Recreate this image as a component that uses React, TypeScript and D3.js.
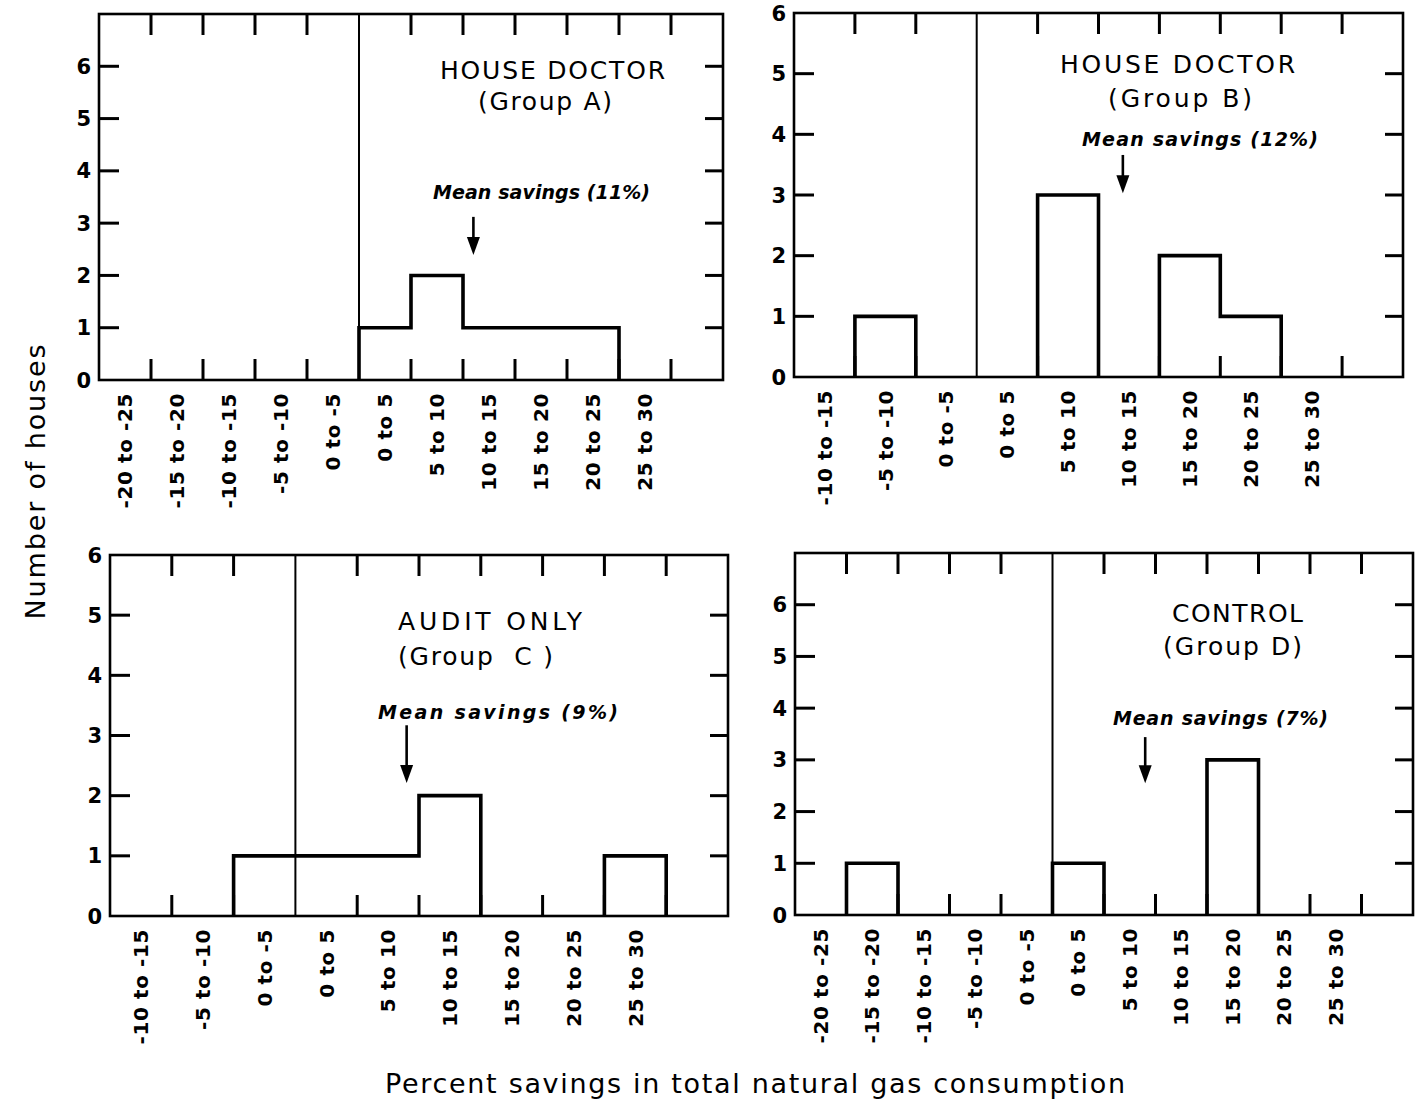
import React from "react";
import * as d3 from "d3";

// ---------- data ----------
const yTicks = [0, 1, 2, 3, 4, 5, 6];
const wideBins = ["-20 to -25", "-15 to -20", "-10 to -15", "-5 to -10", "0 to -5", "0 to 5", "5 to 10", "10 to 15", "15 to 20", "20 to 25", "25 to 30"];
const narrowBins = ["-10 to -15", "-5 to -10", "0 to -5", "0 to 5", "5 to 10", "10 to 15", "15 to 20", "20 to 25", "25 to 30"];
const binWidthPct = 5;

const countsA = [0, 0, 0, 0, 0, 1, 2, 1, 1, 1, 0];
const countsB = [0, 1, 0, 0, 3, 0, 2, 1, 0];
const countsC = [0, 0, 1, 1, 1, 2, 0, 0, 1];
const countsD = [0, 1, 0, 0, 0, 1, 0, 0, 3, 0, 0];

const binStartA = -25;
const binStartB = -15;
const binStartC = -15;
const binStartD = -25;

const yMaxA = 7;
const yMaxB = 6;
const yMaxC = 6;
const yMaxD = 7;

const meanLabels = ["Mean savings (11%)", "Mean savings (12%)", "Mean savings (9%)", "Mean savings (7%)"];
const arrowAt = [11, 12, 9, 9]; // percent position of arrow
const arrowTop = [3.12, 3.66, 3.17, 3.44]; // in houses
const arrowTip = [2.39, 3.03, 2.21, 2.55];

const titles1 = ["HOUSE DOCTOR", "HOUSE DOCTOR", "AUDIT ONLY", "CONTROL"];
const titles2 = ["(Group A)", "(Group B)", "(Group  C )", "(Group D)"];

const yAxisTitle = "Number of houses";
const xAxisTitle = "Percent savings in total natural gas consumption";

// ---------- layout (styling, not data) ----------
const FONT = "'DejaVu Sans', 'Liberation Sans', Arial, sans-serif";

type Layout = {
  left: number; right: number; top: number; bottom: number;
  t1: [number, number, number]; // x start, x end, baseline
  t2: [number, number, number];
  m: [number, number, number];
};

const layouts: Layout[] = [
  { left: 99, right: 723, top: 14, bottom: 380, t1: [440, 665, 79], t2: [478, 612, 110], m: [433, 650, 199] },
  { left: 794, right: 1403, top: 13, bottom: 377, t1: [1060, 1295, 73], t2: [1108, 1252, 107], m: [1082, 1318, 146] },
  { left: 110, right: 728, top: 555, bottom: 916, t1: [398, 582, 630], t2: [398, 553, 665], m: [378, 618, 719] },
  { left: 795, right: 1413, top: 553, bottom: 915, t1: [1172, 1303, 622], t2: [1163, 1302, 655], m: [1113, 1328, 725] },
];

const panels = [
  { bins: wideBins, counts: countsA, start: binStartA, yMax: yMaxA },
  { bins: narrowBins, counts: countsB, start: binStartB, yMax: yMaxB },
  { bins: narrowBins, counts: countsC, start: binStartC, yMax: yMaxC },
  { bins: wideBins, counts: countsD, start: binStartD, yMax: yMaxD },
];

function outlinePaths(counts: number[], start: number, x: (v: number) => number, y: (v: number) => number) {
  const out: string[] = [];
  const line = d3.line();
  let i = 0;
  while (i < counts.length) {
    if (counts[i] === 0) { i++; continue; }
    const pts: [number, number][] = [[x(start + i * binWidthPct), y(0)]];
    while (i < counts.length && counts[i] > 0) {
      pts.push([x(start + i * binWidthPct), y(counts[i])]);
      pts.push([x(start + (i + 1) * binWidthPct), y(counts[i])]);
      i++;
    }
    pts.push([x(start + i * binWidthPct), y(0)]);
    out.push(line(pts) as string);
  }
  return out;
}

function Panel({ idx }: { idx: number }) {
  const p = panels[idx];
  const L = layouts[idx];
  const nSlots = p.bins.length + 1;
  const x = d3.scaleLinear().domain([p.start, p.start + nSlots * binWidthPct]).range([L.left, L.right]);
  const y = d3.scaleLinear().domain([0, p.yMax]).range([L.bottom, L.top]);
  const edges = d3.range(1, nSlots).map((k) => p.start + k * binWidthPct);
  const tickLen = 21;
  const ax = x(arrowAt[idx]);
  const aTop = y(arrowTop[idx]);
  const aTip = y(arrowTip[idx]);
  const headLen = 18;
  const headW = 6.5;
  return (
    <g>
      {/* frame */}
      <rect x={L.left} y={L.top} width={L.right - L.left} height={L.bottom - L.top} fill="none" stroke="#000" strokeWidth={2.6} />
      {/* zero line */}
      <line x1={x(0)} x2={x(0)} y1={L.top} y2={L.bottom} stroke="#000" strokeWidth={2} />
      {/* top & bottom ticks */}
      {edges.filter((e) => e !== 0).map((e) => (
        <g key={"e" + e}>
          <line x1={x(e)} x2={x(e)} y1={L.top} y2={L.top + tickLen} stroke="#000" strokeWidth={3} />
          <line x1={x(e)} x2={x(e)} y1={L.bottom} y2={L.bottom - tickLen} stroke="#000" strokeWidth={3} />
        </g>
      ))}
      {/* left & right ticks */}
      {yTicks.filter((t) => t > 0 && t < p.yMax).map((t) => (
        <g key={"y" + t}>
          <line x1={L.left} x2={L.left + 20} y1={y(t)} y2={y(t)} stroke="#000" strokeWidth={3} />
          <line x1={L.right} x2={L.right - 18} y1={y(t)} y2={y(t)} stroke="#000" strokeWidth={3} />
        </g>
      ))}
      {/* y tick labels */}
      {yTicks.map((t) => (
        <text key={"yl" + t} x={L.left - 8} y={y(t)} dy="0.36em" textAnchor="end" fontFamily={FONT} fontWeight="bold" fontSize={21}>
          {t}
        </text>
      ))}
      {/* x tick labels */}
      {p.bins.map((b, i) => (
        <text
          key={"xl" + i}
          transform={`translate(${x(p.start + (i + 0.5) * binWidthPct)},${L.bottom + 13}) rotate(-90)`}
          dy="0.36em"
          textAnchor="end"
          fontFamily={FONT}
          fontWeight="bold"
          fontSize={20}
          letterSpacing={0.6}
        >
          {b}
        </text>
      ))}
      {/* histogram outline */}
      {outlinePaths(p.counts, p.start, x, y).map((d, k) => (
        <path key={"h" + k} d={d} fill="none" stroke="#000" strokeWidth={3.6} strokeLinejoin="miter" />
      ))}
      {/* titles */}
      <text x={L.t1[0]} y={L.t1[2]} textLength={L.t1[1] - L.t1[0]} lengthAdjust="spacing" fontFamily={FONT} fontSize={25}>
        {titles1[idx]}
      </text>
      <text x={L.t2[0]} y={L.t2[2]} textLength={L.t2[1] - L.t2[0]} lengthAdjust="spacing" fontFamily={FONT} fontSize={25} style={{ whiteSpace: "pre" }}>
        {titles2[idx]}
      </text>
      <text x={L.m[0]} y={L.m[2]} textLength={L.m[1] - L.m[0]} lengthAdjust="spacing" fontFamily={FONT} fontStyle="italic" fontWeight="bold" fontSize={19}>
        {meanLabels[idx]}
      </text>
      {/* arrow */}
      <line x1={ax} x2={ax} y1={aTop} y2={aTip - headLen + 2} stroke="#000" strokeWidth={2.6} />
      <path d={`M${ax - headW},${aTip - headLen} L${ax + headW},${aTip - headLen} L${ax},${aTip} Z`} fill="#000" />
    </g>
  );
}

export default function App() {
  return (
    <svg width={1419} height={1103} viewBox="0 0 1419 1103" style={{ position: "absolute", left: 0, top: 0, background: "#fff" }}>
      <rect width={1419} height={1103} fill="#fff" />
      {panels.map((_, i) => (
        <Panel key={i} idx={i} />
      ))}
      <text
        transform="translate(45,482) rotate(-90)"
        textAnchor="middle"
        fontFamily={FONT}
        fontSize={27}
        textLength={275}
        lengthAdjust="spacing"
      >
        {yAxisTitle}
      </text>
      <text x={385} y={1093} textLength={740} lengthAdjust="spacing" fontFamily={FONT} fontSize={27}>
        {xAxisTitle}
      </text>
    </svg>
  );
}
